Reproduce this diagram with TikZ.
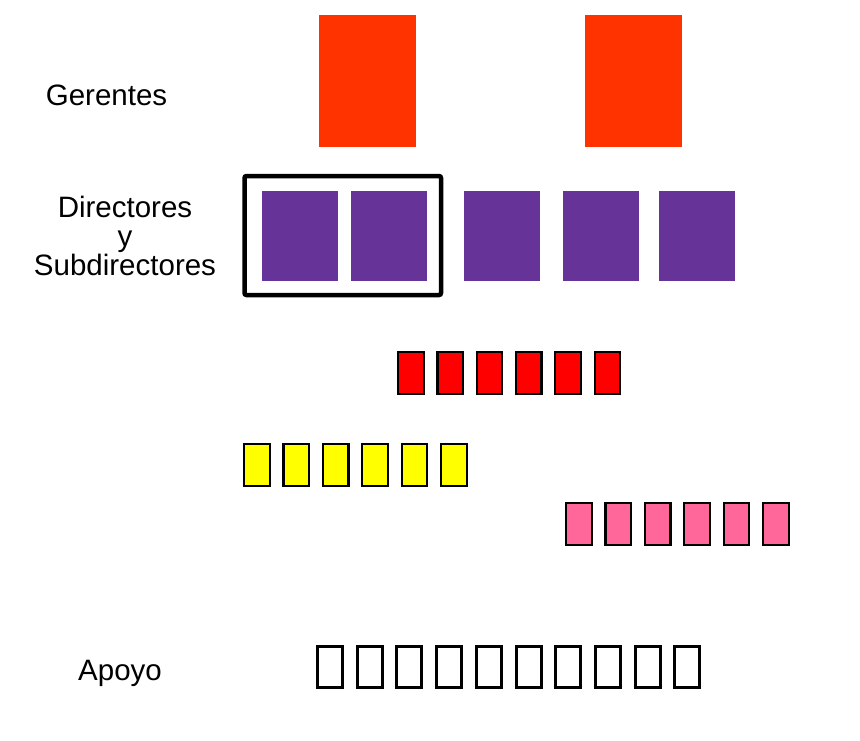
\documentclass[tikz,border=0pt]{standalone}
\usepackage{fontspec}
\setmainfont{Liberation Sans}
\usetikzlibrary{positioning}

\definecolor{gerente}{HTML}{FF3300}
\definecolor{director}{HTML}{663399}
\definecolor{rojo}{HTML}{FF0000}
\definecolor{amarillo}{HTML}{FFFF00}
\definecolor{rosa}{HTML}{FF6699}

\begin{document}
\begin{tikzpicture}[x=1pt,y=-1pt]
					\tikzstyle{label}=[font=\fontsize{29.5}{29}\selectfont,align=center,anchor=base,inner sep=0pt]
					\tikzstyle{gerbox}=[fill=gerente,draw=none,anchor=north west,inner sep=0pt,outer sep=0pt,minimum width=97pt,minimum height=132pt]
					\tikzstyle{dirbox}=[fill=director,draw=none,anchor=north west,inner sep=0pt,outer sep=0pt,minimum width=76pt,minimum height=90pt]
					\tikzstyle{smallbox}=[draw=black,line width=2.2pt,anchor=north west,inner sep=0pt,minimum width=25.5pt,minimum height=41.5pt]
					\useasboundingbox (0,0) rectangle (860,740);
					% textos
					\node (gerentes) [label] at (106.5,105) {Gerentes};
					\node (directores) [label] at (125,275) {Directores\\y\\Subdirectores};
					\node (apoyo) [label] at (120,680) {Apoyo};
					% gerentes
					\node (g1) [gerbox] at (319,15) {};
					\node (g2) [gerbox] at (585,15) {};
					% directores
					\foreach \x [count=\i] in {262,351,464,563,659}
						\node (d\i) [dirbox] at (\x,191) {};
					\draw[line width=4.5pt, rounded corners=2pt] (244.5,176) rectangle (441,295);
					% grupos
					\foreach \i in {1,...,6}{
						\node (r\i) [smallbox, fill=rojo] at ({397+39.3*(\i-1)},351) {};
						\node (a\i) [smallbox, fill=amarillo] at ({243+39.4*(\i-1)},443) {};
						\node (p\i) [smallbox, fill=rosa] at ({565+39.4*(\i-1)},502) {};
					}
					% apoyo
					\foreach \i in {1,...,10}
						\node (s\i) [smallbox, line width=3pt, minimum width=25pt, minimum height=41pt] at ({316+39.7*(\i-1)},645) {};
				\end{tikzpicture}
\end{document}
